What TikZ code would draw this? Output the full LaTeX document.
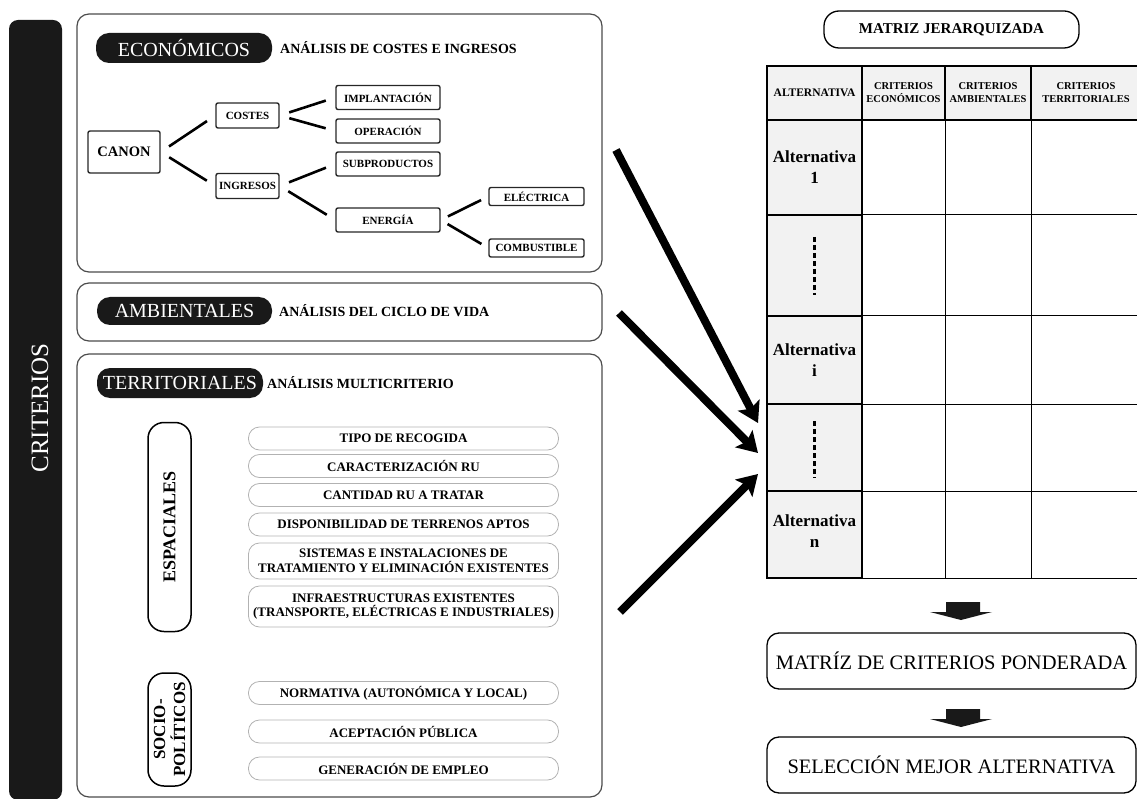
\documentclass[tikz,border=0pt]{standalone}
\usepackage{fontspec}
\setmainfont{Liberation Serif}
\usepackage{tikz}
\usetikzlibrary{calc,arrows.meta}

\begin{document}
\begin{tikzpicture}[x=1pt,y=-1pt,
    panel/.style={draw=black!70, line width=1.2pt, rounded corners=12pt},
    pill/.style={fill=black!90, text=white, rounded corners=13pt, inner sep=0pt, font=\fontsize{20}{24}\selectfont},
    subtitle/.style={anchor=west, inner sep=0pt, font=\bfseries\fontsize{14}{16}\selectfont},
    box/.style={draw=black!85, line width=1.4pt, rounded corners=2pt, inner sep=0pt, font=\bfseries\fontsize{11}{13}\selectfont},
    link/.style={line width=2.6pt, shorten >=10pt, shorten <=10pt},
    group/.style={draw, line width=1.5pt, rounded corners=16pt, inner sep=0pt, rotate=90, align=center},
    factor/.style={draw=black!30, line width=0.8pt, rounded corners=11pt, inner sep=0pt, minimum width=310pt, align=center, font=\bfseries\fontsize{13}{14.5}\selectfont},
    head/.style={align=center, inner sep=0pt, font=\bfseries\fontsize{10.5}{13}\selectfont},
    alt/.style={align=center, inner sep=0pt, font=\bfseries\fontsize{17}{21}\selectfont},
    result/.style={draw, line width=1.3pt, rounded corners=12pt, minimum width=369pt, minimum height=56pt, inner sep=0pt, font=\fontsize{20.5}{24}\selectfont},
    bigarrow/.style={line width=8pt, -{Stealth[length=20pt,width=24pt,inset=4pt]}},
    dots/.style={line width=3pt, dash pattern=on 5pt off 3pt}]
  \path[use as bounding box] (0,0) rectangle (1137,799);
  \clip (0,0) rectangle (1137,799);

  % side bar
  \fill[black!90, rounded corners=9pt] (9,20) rectangle (62,800);
  \node[rotate=90, text=white, inner sep=0pt, font=\fontsize{25}{28}\selectfont] (crit) at (40,408) {CRITERIOS};

  % economicos
  \draw[panel] (77,14) rectangle (602,272);
  \node[pill, minimum width=176pt, minimum height=30pt] (eco) at (184,48) {ECONÓMICOS};
  \node[subtitle] (ecoSub) at (280,48) {ANÁLISIS DE COSTES E INGRESOS};
  \node[box, minimum width=72pt, minimum height=42pt, font=\bfseries\fontsize{14.5}{16}\selectfont] (canon) at (124,152) {CANON};
  \node[box, minimum width=63pt, minimum height=25pt] (costes) at (247.5,115.5) {COSTES};
  \node[box, minimum width=63pt, minimum height=25pt] (ingresos) at (247.5,186) {INGRESOS};
  \node[box, minimum width=104pt, minimum height=24pt] (impl) at (388,97.5) {IMPLANTACIÓN};
  \node[box, minimum width=104pt, minimum height=24pt] (oper) at (388,131) {OPERACIÓN};
  \node[box, minimum width=104pt, minimum height=24pt] (subp) at (388,164) {SUBPRODUCTOS};
  \node[box, minimum width=104pt, minimum height=24pt] (energia) at (388,220) {ENERGÍA};
  \node[box, minimum width=95pt, minimum height=18pt] (elec) at (536.5,196.5) {ELÉCTRICA};
  \node[box, minimum width=95pt, minimum height=18pt] (comb) at (536.5,248) {COMBUSTIBLE};
  \draw[link] (canon.east) -- (costes.west);
  \draw[link] (canon.east) -- (ingresos.west);
  \draw[link] (costes.east) -- (impl.west);
  \draw[link] (costes.east) -- (oper.west);
  \draw[link] (ingresos.east) -- (subp.west);
  \draw[link] (ingresos.east) -- (energia.west);
  \draw[link, shorten <=8pt, shorten >=8pt] (energia.east) -- (elec.west);
  \draw[link, shorten <=8pt, shorten >=8pt] (energia.east) -- (comb.west);

  % ambientales
  \draw[panel] (77,283) rectangle (602,341);
  \node[pill, minimum width=175pt, minimum height=28pt] (amb) at (184.5,311) {AMBIENTALES};
  \node[subtitle] (ambSub) at (279,311) {ANÁLISIS DEL CICLO DE VIDA};

  % territoriales
  \draw[panel] (77,354) rectangle (602,797);
  \node[pill, minimum width=166pt, minimum height=30pt] (ter) at (180,383) {TERRITORIALES};
  \node[subtitle] (terSub) at (267,383) {ANÁLISIS MULTICRITERIO};
  \node[group, minimum width=209pt, minimum height=43pt, font=\bfseries\fontsize{18}{20}\selectfont] (espac) at (169.5,527) {ESPACIALES};
  \node[group, minimum width=113pt, minimum height=43pt, font=\bfseries\fontsize{17}{20}\selectfont] (socio) at (169.5,729.5) {SOCIO-\\POLÍTICOS};
  \node[factor, minimum height=23pt] (f1) at (403.5,438.5) {TIPO DE RECOGIDA};
  \node[factor, minimum height=23pt] (f2) at (403.5,466) {CARACTERIZACIÓN RU};
  \node[factor, minimum height=23pt] (f3) at (403.5,495) {CANTIDAD RU A TRATAR};
  \node[factor, minimum height=23pt] (f4) at (403.5,524.5) {DISPONIBILIDAD DE TERRENOS APTOS};
  \node[factor, minimum height=36pt] (f5) at (403.5,561) {SISTEMAS E INSTALACIONES DE\\TRATAMIENTO Y ELIMINACIÓN EXISTENTES};
  \node[factor, minimum height=41pt] (f6) at (403.5,606.5) {INFRAESTRUCTURAS EXISTENTES\\(TRANSPORTE, ELÉCTRICAS E INDUSTRIALES)};
  \node[factor, minimum height=23pt] (f7) at (403.5,693) {NORMATIVA (AUTONÓMICA Y LOCAL)};
  \node[factor, minimum height=23pt] (f8) at (403.5,731.5) {ACEPTACIÓN PÚBLICA};
  \node[factor, minimum height=23pt] (f9) at (403.5,768.5) {GENERACIÓN DE EMPLEO};

  % matriz
  \node[draw, line width=1.3pt, rounded corners=15pt, minimum width=255pt, minimum height=37pt, inner sep=0pt, font=\bfseries\fontsize{15}{18}\selectfont] (jer) at (951.5,29.5) {MATRIZ JERARQUIZADA};
  \fill[black!5] (767,66) rectangle (1140,120);
  \fill[black!5] (767,120) rectangle (862,578);
  \draw[line width=1pt] (862,215) -- (1140,215) (862,316) -- (1140,316) (862,404) -- (1140,404)
    (862,491) -- (1140,491) (862,578) -- (1140,578) (945,120) -- (945,578) (1031,120) -- (1031,578);
  \draw[line width=2pt] (1140,66) -- (767,66) -- (767,578) -- (862,578) -- (862,66)
    (767,120) -- (1140,120) (945,66) -- (945,120) (1031,66) -- (1031,120)
    (767,215) -- (862,215) (767,316) -- (862,316) (767,404) -- (862,404) (767,491) -- (862,491);
  \node[head, font=\bfseries\fontsize{11.5}{13}\selectfont] (hAlt) at (814.5,93) {ALTERNATIVA};
  \node[head] (hEco) at (903.5,93) {CRITERIOS\\ECONÓMICOS};
  \node[head] (hAmb) at (988,93) {CRITERIOS\\AMBIENTALES};
  \node[head] (hTer) at (1086,93) {CRITERIOS\\TERRITORIALES};
  \node[alt] (alt1) at (814.5,167) {Alternativa\\1};
  \draw[dots] (814.5,237) -- (814.5,295);
  \node[alt] (alti) at (814.5,360) {Alternativa\\i};
  \draw[dots] (814.5,421) -- (814.5,478);
  \node[alt] (altn) at (814.5,531) {Alternativa\\n};

  % flechas
  \coordinate (ecoOut) at (616,150);
  \coordinate (ambOut) at (619,313);
  \coordinate (terOut) at (620,612);
  \coordinate (hit1) at (758,423);
  \coordinate (hit2) at (758,453);
  \coordinate (hit3) at (758,474);
  \draw[bigarrow] (ecoOut) -- (hit1);
  \draw[bigarrow] (ambOut) -- (hit2);
  \draw[bigarrow] (terOut) -- (hit3);

  % resultado
  \node[result] (pond) at (951.5,661) {MATRÍZ DE CRITERIOS PONDERADA};
  \node[result] (best) at (951.5,765) {SELECCIÓN MEJOR ALTERNATIVA};
  \fill[black!90, shift={(961,602)}] (-15,0) -- (19,0) -- (19,10) -- (31,10) -- (0,18) -- (-31,10) -- (-15,10) -- cycle;
  \fill[black!90, shift={(961,709)}] (-15,0) -- (19,0) -- (19,10) -- (31,10) -- (0,18) -- (-31,10) -- (-15,10) -- cycle;
\end{tikzpicture}
\end{document}
